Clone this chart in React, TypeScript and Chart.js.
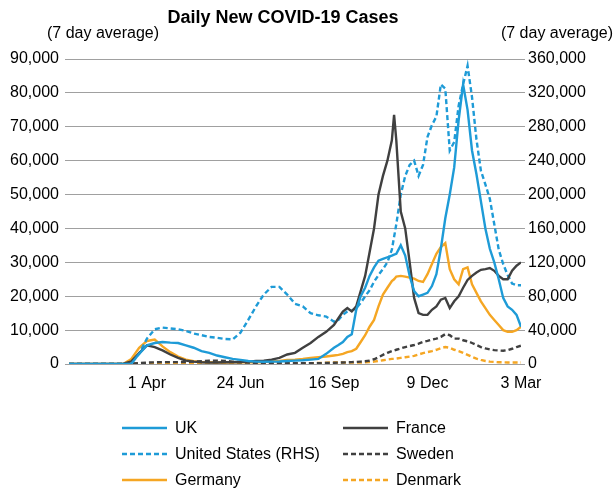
import React, { useEffect, useRef } from "react";
import { Chart, registerables } from "chart.js";

Chart.register(...registerables);

const FONT = "'Liberation Sans', Arial, Helvetica, sans-serif";

const TITLE = "Daily New COVID-19 Cases";
const LEFT_UNIT = "(7 day average)";
const RIGHT_UNIT = "(7 day average)";

// Day offsets from 22 Jan 2020
const days = [
  0, 7, 14, 21, 28, 35, 42, 49, 56, 63, 70, 77, 84, 91, 98, 105, 112, 119, 126, 133,
  140, 147, 154, 161, 168, 175, 182, 189, 196, 203, 210, 217, 224, 231, 238,
  242, 246, 250, 254, 258, 262, 266, 270, 274, 278, 282, 286, 290, 292, 294,
  298, 302, 306, 310, 314, 318, 322, 326, 330, 334, 338, 342, 346, 350, 354,
  358, 362, 366, 370, 374, 378, 382, 386, 390, 394, 398, 402, 406,
];

const tickDays = [70, 154, 238, 322, 406];
const tickLabels = ["1 Apr", "24 Jun", "16 Sep", "9 Dec", "3 Mar"];

const uk = [
  0, 0, 0, 0, 0, 0, 0, 0,
  100, 3000, 5500, 6200, 6500, 6300, 6200, 5500, 4800, 3800,
  3300, 2500, 2000, 1500, 1200, 900, 700, 650, 700, 750,
  900, 1000, 1100, 1300, 1500, 3000, 4800,
  5600, 6500, 8000, 8800, 16000, 20000, 22500, 26000, 28500, 30500, 31000, 31500, 32000,
  32300,
  32500, 35000, 32000, 26000, 21500, 20000, 20500, 21000, 23000, 26500,
  34000, 43000, 50000, 58000, 72000, 82500, 75000, 63000, 56000, 48000,
  40000, 34000, 30000, 25000, 19500, 17000, 16000, 14500, 11000,
];

const france = [
  0, 0, 0, 0, 0, 0, 0, 100,
  800, 3200, 5500, 5000, 4000, 2800, 1800, 1000, 700, 500,
  400, 450, 500, 500, 600, 700, 900, 1000, 1300, 1800,
  2800, 3300, 4800, 6200, 8000, 9500, 11500,
  13500, 15500, 16500, 15500, 17000, 21500, 26000, 33000, 40000, 50000, 55500, 60000, 66000,
  73500,
  66000, 45000, 40000, 30000, 19500, 15000, 14500, 14500, 16000, 17000,
  19000, 19500, 16500, 18500, 20000, 22500, 24800, 26000, 27000, 27800,
  28000, 28300, 27500, 26000, 25000, 25000, 27500, 29000, 30000,
];

const unitedStates = [
  0, 0, 0, 0, 0, 0, 0, 0,
  1000, 12000, 30000, 41000, 43000, 42000, 41000, 39000, 36000, 34000,
  32000, 31000, 29500, 29000, 37000, 52000, 68000, 82000, 91000, 91000,
  82000, 71000, 68000, 60000, 57500, 56000, 50000,
  52000, 58000, 62000, 63000, 66000, 72000, 80000, 87000, 97000, 105000, 112000, 120000, 135000,
  150000,
  165000, 200000, 222000, 235000, 240000, 222000, 235000, 268000, 282000, 292000,
  330000, 325000, 252000, 262000, 305000, 330000, 352000, 315000, 265000, 228000,
  212000, 195000, 165000, 135000, 118000, 105000, 95000, 93000, 93000,
];

const sweden = [
  0, 0, 0, 0, 0, 0, 0, 0,
  100, 300, 400, 500, 550, 550, 550, 600, 700, 800,
  950, 1000, 900, 700, 500, 400, 300, 250, 200, 200,
  250, 200, 200, 200, 250, 300, 350,
  400, 450, 500, 550, 600, 700, 800, 1000, 1400, 2000, 2700, 3300, 3800,
  4000,
  4200, 4600, 5000, 5300, 5600, 6000, 6500, 6800, 7200, 7500,
  8000, 8800, 8500, 7500, 7500, 7000, 6700, 6200, 5600, 5000,
  4600, 4300, 4100, 4000, 3900, 4100, 4500, 5000, 5400,
];

const germany = [
  0, 0, 0, 0, 0, 0, 0, 100,
  1500, 4800, 6800, 7200, 5200, 3500, 2200, 1300, 800, 600,
  500, 450, 450, 500, 500, 500, 500, 600, 800, 900,
  1200, 1300, 1500, 1800, 2000, 2200, 2500,
  2700, 3000, 3500, 3800, 4500, 6500, 8500, 11000, 13000, 17000, 20500, 22500, 24500,
  25000,
  25800, 26000, 25800, 25500, 25200, 24500, 24200, 26500, 29500, 32500,
  34500, 35700, 28000, 25000, 23500, 28000, 28500, 23500, 21000, 18500,
  16500, 14500, 13000, 11500, 10000, 9500, 9500, 10000, 11000,
];

const denmark = [
  0, 0, 0, 0, 0, 0, 0, 0,
  0, 150, 250, 300, 250, 200, 150, 100, 100, 100,
  80, 50, 50, 50, 50, 50, 80, 100, 100, 100,
  100, 150, 150, 200, 300, 400, 450,
  450, 450, 400, 400, 400, 450, 500, 600, 700, 900, 1100, 1300, 1500,
  1500,
  1600, 1800, 2000, 2200, 2400, 2800, 3200, 3500, 3800, 4200,
  4700, 5000, 4800, 4200, 3800, 3300, 2700, 2100, 1600, 1200,
  900, 700, 600, 500, 500, 450, 450, 450, 450,
];

const BLUE = "#1e9bd7";
const GREY = "#404040";
const ORANGE = "#f5a623";
const GRID = "#a0a0a0";

export default function App() {
  const ref = useRef<HTMLCanvasElement>(null);

  useEffect(() => {
    document.body.style.margin = "0";
    const canvas = ref.current;
    if (!canvas) return;

    const mk = (vals: number[]) => days.map((d, i) => ({ x: d, y: vals[i] }));

    const headerPlugin = {
      id: "headersAndLegend",
      afterDraw(chart: any) {
        const ctx = chart.ctx as CanvasRenderingContext2D;
        ctx.save();
        ctx.fillStyle = "#000";
        ctx.textBaseline = "middle";
        ctx.font = `bold 18px ${FONT}`;
        ctx.textAlign = "center";
        ctx.fillText(TITLE, 283, 18);
        ctx.font = `16px ${FONT}`;
        ctx.textAlign = "left";
        ctx.fillText(LEFT_UNIT, 47, 34);
        ctx.textAlign = "right";
        ctx.fillText(RIGHT_UNIT, 613, 34);

        const cols = [122, 343];
        const rows = [428, 454, 480];
        chart.data.datasets.forEach((ds: any, i: number) => {
          const x = cols[i % 2];
          const y = rows[Math.floor(i / 2)];
          ctx.strokeStyle = ds.borderColor;
          ctx.lineWidth = 2.5;
          ctx.setLineDash(ds.borderDash || []);
          ctx.beginPath();
          ctx.moveTo(x, y);
          ctx.lineTo(x + 45, y);
          ctx.stroke();
          ctx.setLineDash([]);
          ctx.textAlign = "left";
          ctx.fillStyle = "#000";
          ctx.fillText(ds.label, x + 53, y + 1);
        });
        ctx.restore();
      },
    };

    const tickFont = { family: FONT, size: 16 };

    const chart = new Chart(canvas, {
      type: "line",
      data: {
        datasets: [
          { label: "UK", data: mk(uk), borderColor: BLUE, yAxisID: "y" },
          { label: "France", data: mk(france), borderColor: GREY, yAxisID: "y" },
          { label: "United States (RHS)", data: mk(unitedStates), borderColor: BLUE, borderDash: [5, 3], yAxisID: "y1" },
          { label: "Sweden", data: mk(sweden), borderColor: GREY, borderDash: [5, 3], yAxisID: "y" },
          { label: "Germany", data: mk(germany), borderColor: ORANGE, yAxisID: "y" },
          { label: "Denmark", data: mk(denmark), borderColor: ORANGE, borderDash: [5, 3], yAxisID: "y" },
        ].map((d) => ({ ...d, borderWidth: 2.4, pointRadius: 0, tension: 0, fill: false })),
      },
      options: {
        animation: false,
        responsive: true,
        maintainAspectRatio: false,
        layout: { padding: { top: 59, bottom: 97, left: 0, right: 0 } },
        plugins: {
          legend: { display: false },
          title: { display: false },
          tooltip: { enabled: false },
        },
        scales: {
          x: {
            type: "linear",
            min: 0,
            max: 406,
            afterBuildTicks: (s: any) => {
              s.ticks = tickDays.map((v) => ({ value: v }));
            },
            afterFit: (s: any) => {
              s.height = 30;
            },
            ticks: {
              autoSkip: false,
              maxRotation: 0,
              padding: 2,
              color: "#000",
              font: tickFont,
              callback: (v: any) => {
                const i = tickDays.indexOf(Number(v));
                return i >= 0 ? tickLabels[i] : "";
              },
            },
            grid: { display: false },
            border: { display: false },
          },
          y: {
            position: "left",
            min: 0,
            max: 90000,
            afterFit: (s: any) => {
              s.width = 69;
            },
            ticks: {
              stepSize: 10000,
              padding: 6,
              color: "#000",
              font: tickFont,
              callback: (v: any) => Number(v).toLocaleString("en-US"),
            },
            grid: { color: GRID, lineWidth: 1, tickLength: 4 },
            border: { display: false },
          },
          y1: {
            position: "right",
            min: 0,
            max: 360000,
            afterFit: (s: any) => {
              s.width = 95;
            },
            ticks: {
              stepSize: 40000,
              padding: 3,
              color: "#000",
              font: tickFont,
              callback: (v: any) => Number(v).toLocaleString("en-US"),
            },
            grid: { drawOnChartArea: false, color: GRID, lineWidth: 1, tickLength: 4 },
            border: { display: false },
          },
        },
      },
      plugins: [headerPlugin],
    } as any);

    return () => chart.destroy();
  }, []);

  return (
    <div style={{ width: 616, height: 491, position: "relative", overflow: "hidden" }}>
      <canvas ref={ref} />
    </div>
  );
}
